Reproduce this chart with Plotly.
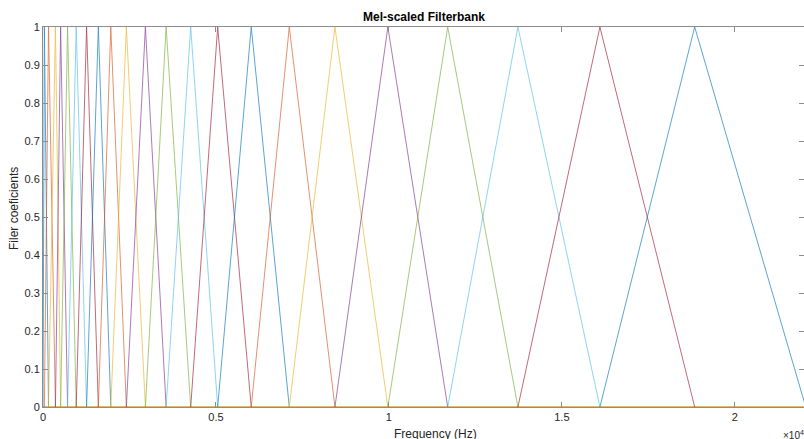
import plotly.graph_objects as go

# Filter edge / centre frequencies (Hz)
edges_hz = [0, 40, 160, 360, 510, 710, 960, 1260, 1600, 1960, 2410, 2960, 3560,
            4270, 5050, 6020, 7120, 8440, 9970, 11700, 13730, 16100, 18840, 22050]
x_ticks = [0, 5000, 10000, 15000, 20000]
x_tick_labels = ["0", "0.5", "1", "1.5", "2"]
y_ticks = [0, 0.1, 0.2, 0.3, 0.4, 0.5, 0.6, 0.7, 0.8, 0.9, 1]
y_tick_labels = ["0", "0.1", "0.2", "0.3", "0.4", "0.5", "0.6", "0.7", "0.8", "0.9", "1"]
colors = ["#0072BD", "#D95319", "#EDB120", "#7E2F8E", "#77AC30", "#4DBEEE", "#A2142F"]

fig = go.Figure()
# baseline (zero part of all filters)
fig.add_trace(go.Scatter(x=[edges_hz[0], edges_hz[-1]], y=[0, 0], mode="lines",
                         line=dict(color="#D2A445", width=1.5), hoverinfo="skip",
                         showlegend=False))
for k in range(len(edges_hz) - 2):
    fig.add_trace(go.Scatter(
        x=[edges_hz[k], edges_hz[k + 1], edges_hz[k + 2]],
        y=[0, 1, 0], mode="lines",
        line=dict(color=colors[k % len(colors)], width=0.8),
        opacity=0.8, showlegend=False))

axis_col = "#8c8c8c"
fig.update_layout(
    width=804, height=439,
    margin=dict(l=43, r=0, t=27, b=32, autoexpand=False),
    plot_bgcolor="white", paper_bgcolor="white",
    font=dict(family="Liberation Sans, Arial, sans-serif", size=11, color="#262626"),
    showlegend=False,
)
fig.update_xaxes(range=[0, 22000], tickvals=x_ticks, ticktext=x_tick_labels,
                 showgrid=False, zeroline=False, showline=True, linecolor=axis_col,
                 linewidth=1, mirror="ticks", ticks="inside", ticklen=5,
                 tickcolor=axis_col, tickfont=dict(size=11, color="#262626"),
                 automargin=False)
fig.update_yaxes(range=[0, 1], tickvals=y_ticks, ticktext=y_tick_labels,
                 showgrid=False, zeroline=False, showline=True, linecolor=axis_col,
                 linewidth=1, mirror="ticks", ticks="inside", ticklen=5,
                 tickcolor=axis_col, tickfont=dict(size=11, color="#262626"),
                 automargin=False)

fig.add_annotation(text="<b>Mel-scaled Filterbank</b>", xref="paper", yref="paper",
                   x=0.5, y=1, yanchor="bottom", yshift=1, showarrow=False,
                   font=dict(size=12, color="#000000"))
fig.add_annotation(text="Frequency (Hz)", xref="paper", yref="paper",
                   x=(435 - 43) / 761, y=0, yanchor="top", yshift=-18, showarrow=False,
                   font=dict(size=12, color="#262626"))
fig.add_annotation(text="Filer coeficients", xref="paper", yref="paper",
                   x=-(43 - 14) / 761, xanchor="center", y=(407 - 208) / 380,
                   yanchor="middle", textangle=-90,
                   showarrow=False, font=dict(size=12, color="#262626"))
fig.add_annotation(text="×10<sup>4</sup>", xref="paper", yref="paper",
                   x=(781 - 43) / 761, xanchor="left", y=0, yanchor="top",
                   yshift=-20, showarrow=False, font=dict(size=10, color="#262626"))

fig.write_html("out.html", config={"displayModeBar": False},
               post_script="document.body.style.margin='0';document.body.style.overflow='hidden';")
